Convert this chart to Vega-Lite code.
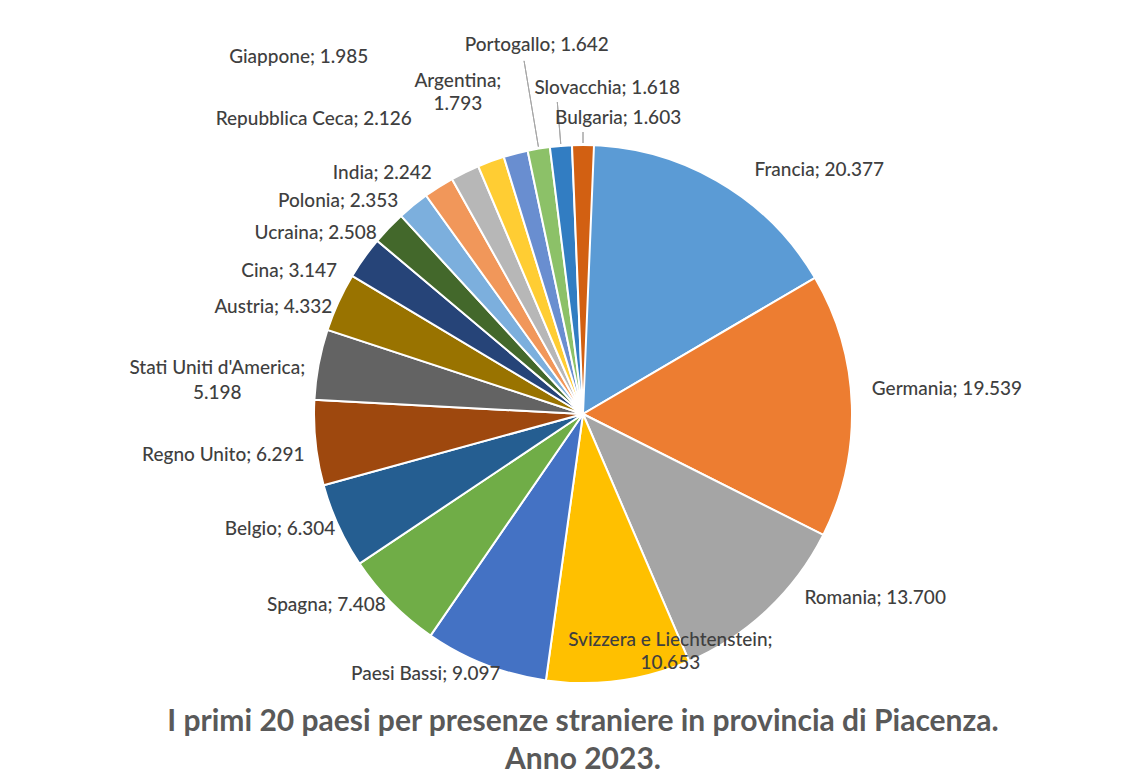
{
  "$schema": "https://vega.github.io/schema/vega-lite/v6.json",
  "width": 1130,
  "height": 724,
  "autosize": {"type": "none"},
  "padding": {"left": 18, "top": 52, "right": 0, "bottom": 0},
  "background": "#ffffff",
  "config": {"view": {"stroke": null}, "text": {"font": "Lato", "fontSize": 19, "fontWeight": 500, "fill": "#3f3f3f", "baseline": "middle"}},
  "title": {
    "text": ["I primi 20 paesi per presenze straniere in provincia di Piacenza.", "Anno 2023."],
    "orient": "bottom",
    "anchor": "middle",
    "frame": "group",
    "offset": -69,
    "font": "Lato",
    "fontSize": 30,
    "fontWeight": "bold",
    "color": "#595959",
    "lineHeight": 38
  },
  "data": {
    "values": [
      {"country": "Francia", "value": 20377},
      {"country": "Germania", "value": 19539},
      {"country": "Romania", "value": 13700},
      {"country": "Svizzera e Liechtenstein", "value": 10653},
      {"country": "Paesi Bassi", "value": 9097},
      {"country": "Spagna", "value": 7408},
      {"country": "Belgio", "value": 6304},
      {"country": "Regno Unito", "value": 6291},
      {"country": "Stati Uniti d'America", "value": 5198},
      {"country": "Austria", "value": 4332},
      {"country": "Cina", "value": 3147},
      {"country": "Ucraina", "value": 2508},
      {"country": "Polonia", "value": 2353},
      {"country": "India", "value": 2242},
      {"country": "Repubblica Ceca", "value": 2126},
      {"country": "Giappone", "value": 1985},
      {"country": "Argentina", "value": 1793},
      {"country": "Portogallo", "value": 1642},
      {"country": "Slovacchia", "value": 1618},
      {"country": "Bulgaria", "value": 1603}
    ]
  },
  "transform": [
    {"window": [{"op": "sum", "field": "value", "as": "cum_end"}], "sort": [{"field": "value", "order": "descending"}], "frame": [null, 0]},
    {"calculate": "datum.cum_end - datum.value", "as": "cum_start"},
    {"calculate": "datum.cum_end - datum.value / 2", "as": "mid"},
    {"calculate": "replace(format(datum.value, ','), ',', '.')", "as": "fmt"},
    {"calculate": "datum.country + '; ' + datum.fmt", "as": "label"},
    {"calculate": "datum.country + ';\\n' + datum.fmt", "as": "label2"}
  ],
  "layer": [
    {
      "mark": {"type": "arc", "outerRadius": 269, "stroke": "#ffffff", "strokeWidth": 2},
      "encoding": {
        "theta": {"field": "cum_start", "type": "quantitative", "stack": null, "scale": {"nice": false, "zero": true}},
        "theta2": {"field": "cum_end"},
        "color": {
          "field": "country",
          "type": "nominal",
          "legend": null,
          "scale": {
            "domain": ["Francia", "Germania", "Romania", "Svizzera e Liechtenstein", "Paesi Bassi", "Spagna", "Belgio", "Regno Unito", "Stati Uniti d'America", "Austria", "Cina", "Ucraina", "Polonia", "India", "Repubblica Ceca", "Giappone", "Argentina", "Portogallo", "Slovacchia", "Bulgaria"],
            "range": ["#5B9BD5", "#ED7D31", "#A5A5A5", "#FFC000", "#4472C4", "#70AD47", "#255E91", "#9E480E", "#636363", "#997300", "#264478", "#43682B", "#7CAFDD", "#F1975A", "#B7B7B7", "#FFCD33", "#698ED0", "#8CC168", "#327DC2", "#D26012"]
          }
        }
      }
    },
    {"transform": [{"filter": {"field": "country", "equal": "Portogallo"}}], "mark": {"type": "arc", "innerRadius": 271, "outerRadius": 358, "stroke": "#a6a6a6", "strokeWidth": 1, "fillOpacity": 0}, "encoding": {"theta": {"field": "mid", "type": "quantitative", "stack": null}, "theta2": {"field": "mid"}}},
    {"transform": [{"filter": {"field": "country", "equal": "Slovacchia"}}], "mark": {"type": "arc", "innerRadius": 271, "outerRadius": 313, "stroke": "#a6a6a6", "strokeWidth": 1, "fillOpacity": 0}, "encoding": {"theta": {"field": "mid", "type": "quantitative", "stack": null}, "theta2": {"field": "mid"}}},
    {"transform": [{"filter": {"field": "country", "equal": "Bulgaria"}}], "mark": {"type": "arc", "innerRadius": 271, "outerRadius": 282, "stroke": "#a6a6a6", "strokeWidth": 1, "fillOpacity": 0}, "encoding": {"theta": {"field": "mid", "type": "quantitative", "stack": null}, "theta2": {"field": "mid"}}},
    {"transform": [{"filter": {"field": "country", "equal": "Francia"}}], "mark": {"type": "text", "radius": 291, "align": "left", "dx": 27, "dy": 9}, "encoding": {"theta": {"field": "mid", "type": "quantitative", "stack": null}, "text": {"field": "label"}}},
    {"transform": [{"filter": {"field": "country", "equal": "Germania"}}], "mark": {"type": "text", "radius": 291, "align": "left", "dx": -2, "dy": -16}, "encoding": {"theta": {"field": "mid", "type": "quantitative", "stack": null}, "text": {"field": "label"}}},
    {"transform": [{"filter": {"field": "country", "equal": "Romania"}}], "mark": {"type": "text", "radius": 291, "align": "left", "dx": 22, "dy": -28}, "encoding": {"theta": {"field": "mid", "type": "quantitative", "stack": null}, "text": {"field": "label"}}},
    {"transform": [{"filter": {"field": "country", "equal": "Bulgaria"}}], "mark": {"type": "text", "radius": 291, "align": "left", "dx": -28, "dy": -5}, "encoding": {"theta": {"field": "mid", "type": "quantitative", "stack": null}, "text": {"field": "label"}}},
    {"transform": [{"filter": {"field": "country", "equal": "Slovacchia"}}], "mark": {"type": "text", "radius": 324, "align": "left", "dx": -22, "dy": -3}, "encoding": {"theta": {"field": "mid", "type": "quantitative", "stack": null}, "text": {"field": "label"}}},
    {"transform": [{"filter": {"field": "country", "equal": "Paesi Bassi"}}], "mark": {"type": "text", "radius": 280, "align": "right", "dx": 19, "dy": -1}, "encoding": {"theta": {"field": "mid", "type": "quantitative", "stack": null}, "text": {"field": "label"}}},
    {"transform": [{"filter": {"field": "country", "equal": "Spagna"}}], "mark": {"type": "text", "radius": 280, "align": "right", "dx": 2, "dy": -6}, "encoding": {"theta": {"field": "mid", "type": "quantitative", "stack": null}, "text": {"field": "label"}}},
    {"transform": [{"filter": {"field": "country", "equal": "Belgio"}}], "mark": {"type": "text", "radius": 280, "align": "right", "dx": 7, "dy": -2}, "encoding": {"theta": {"field": "mid", "type": "quantitative", "stack": null}, "text": {"field": "label"}}},
    {"transform": [{"filter": {"field": "country", "equal": "Regno Unito"}}], "mark": {"type": "text", "radius": 280, "align": "right", "dx": 0, "dy": 11}, "encoding": {"theta": {"field": "mid", "type": "quantitative", "stack": null}, "text": {"field": "label"}}},
    {"transform": [{"filter": {"field": "country", "equal": "Stati Uniti d'America"}}], "mark": {"type": "text", "radius": 367, "align": "center", "lineBreak": "\n", "lineHeight": 25, "dx": -5, "dy": 22}, "encoding": {"theta": {"field": "mid", "type": "quantitative", "stack": null}, "text": {"field": "label2"}}},
    {"transform": [{"filter": {"field": "country", "equal": "Austria"}}], "mark": {"type": "text", "radius": 280, "align": "right", "dx": 4, "dy": 9}, "encoding": {"theta": {"field": "mid", "type": "quantitative", "stack": null}, "text": {"field": "label"}}},
    {"transform": [{"filter": {"field": "country", "equal": "Cina"}}], "mark": {"type": "text", "radius": 280, "align": "right", "dx": -18, "dy": 20}, "encoding": {"theta": {"field": "mid", "type": "quantitative", "stack": null}, "text": {"field": "label"}}},
    {"transform": [{"filter": {"field": "country", "equal": "Ucraina"}}], "mark": {"type": "text", "radius": 280, "align": "right", "dx": -4, "dy": 13}, "encoding": {"theta": {"field": "mid", "type": "quantitative", "stack": null}, "text": {"field": "label"}}},
    {"transform": [{"filter": {"field": "country", "equal": "Polonia"}}], "mark": {"type": "text", "radius": 280, "align": "right", "dx": -8, "dy": 4}, "encoding": {"theta": {"field": "mid", "type": "quantitative", "stack": null}, "text": {"field": "label"}}},
    {"transform": [{"filter": {"field": "country", "equal": "India"}}], "mark": {"type": "text", "radius": 280, "align": "right", "dx": -1, "dy": -5}, "encoding": {"theta": {"field": "mid", "type": "quantitative", "stack": null}, "text": {"field": "label"}}},
    {"transform": [{"filter": {"field": "country", "equal": "Repubblica Ceca"}}], "mark": {"type": "text", "radius": 340, "align": "right", "dx": -22, "dy": 11}, "encoding": {"theta": {"field": "mid", "type": "quantitative", "stack": null}, "text": {"field": "label"}}},
    {"transform": [{"filter": {"field": "country", "equal": "Giappone"}}], "mark": {"type": "text", "radius": 405, "align": "right", "dx": -76, "dy": 24}, "encoding": {"theta": {"field": "mid", "type": "quantitative", "stack": null}, "text": {"field": "label"}}},
    {"transform": [{"filter": {"field": "country", "equal": "Portogallo"}}], "mark": {"type": "text", "radius": 366, "align": "center", "dx": 14, "dy": -8}, "encoding": {"theta": {"field": "mid", "type": "quantitative", "stack": null}, "text": {"field": "label"}}},
    {"transform": [{"filter": {"field": "country", "equal": "Argentina"}}], "mark": {"type": "text", "radius": 340, "align": "center", "lineBreak": "\n", "lineHeight": 23, "dx": -40, "dy": -4}, "encoding": {"theta": {"field": "mid", "type": "quantitative", "stack": null}, "text": {"field": "label2"}}},
    {"transform": [{"filter": {"field": "country", "equal": "Svizzera e Liechtenstein"}}], "mark": {"type": "text", "radius": 251, "align": "center", "lineBreak": "\n", "lineHeight": 23, "dx": 54, "dy": -23}, "encoding": {"theta": {"field": "mid", "type": "quantitative", "stack": null}, "text": {"field": "label2"}}}
  ]
}
